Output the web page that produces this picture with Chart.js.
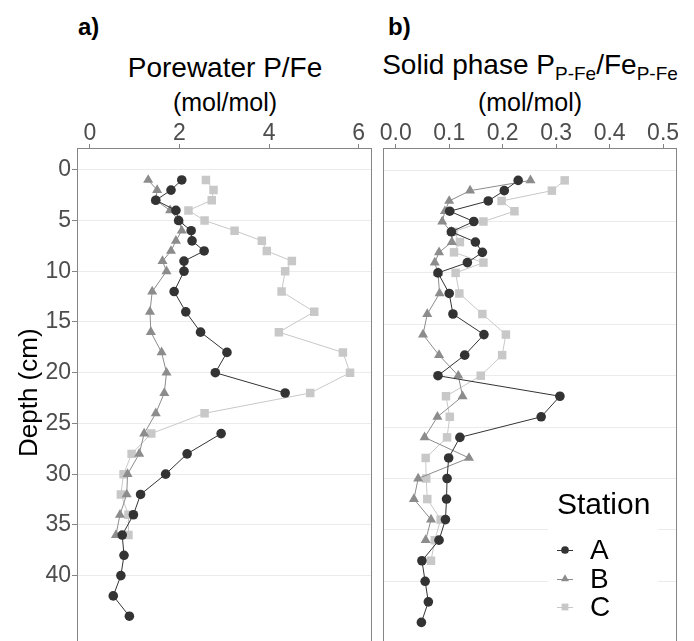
<!DOCTYPE html>
<html><head><meta charset="utf-8">
<script src="https://cdn.jsdelivr.net/npm/chart.js@4.4.1/dist/chart.umd.min.js"></script>
<style>
html,body{margin:0;padding:0;width:694px;height:641px;overflow:hidden;background:#fff;font-family:"Liberation Sans",Arial,sans-serif;}
canvas{position:absolute;}
#c1{left:0;top:110px;}
#c2{left:370px;top:110px;}
.t{position:absolute;white-space:nowrap;color:#000;line-height:1;text-align:center;}
.t sub{font-size:19px;vertical-align:-6px;line-height:1;}
</style></head><body>
<div class="t" style="left:78px;top:15px;font-size:24px;font-weight:bold;text-align:left;">a)</div>
<div class="t" style="left:388px;top:15px;font-size:24px;font-weight:bold;text-align:left;">b)</div>
<div class="t" style="left:75px;width:300px;top:54px;font-size:28px;">Porewater P/Fe</div>
<div class="t" style="left:75px;width:300px;top:90px;font-size:25px;">(mol/mol)</div>
<div class="t" style="left:380px;width:300px;top:51px;font-size:28px;">Solid phase P<sub>P-Fe</sub>/Fe<sub>P-Fe</sub></div>
<div class="t" style="left:380px;width:300px;top:90px;font-size:25px;">(mol/mol)</div>
<canvas id="c1" width="380" height="540" style="width:380px;height:540px"></canvas>
<canvas id="c2" width="324" height="540" style="width:324px;height:540px"></canvas>
<script>
// ---------- data ----------
const stations = ['A', 'B', 'C'];
const depthA = [1,2,3,4,5,6,7,8,9,10,12,14,16,18,20,22,24,26,28,30,32,34,36,38,40,42,44];
const depthB = [1,2,3,4,5,6,7,8,9,10,12,14,16,18,20,22,24,26,28,30,32,34,36];
const depthC = [1,2,3,4,5,6,7,8,9,10,12,14,16,18,20,22,24,26,28,30,32,34,36];
const depthCsolid = [1,2,3,4,5,6,7,8,9,10,12,14,16,18,20,22,24,26,28,30,32,34,36,38];

const poreA = [2.05,1.81,1.47,1.92,1.98,2.26,2.28,2.55,2.10,2.10,1.88,2.14,2.47,3.06,2.80,4.36,null,2.93,2.17,1.69,1.13,0.97,0.72,0.76,0.69,0.52,0.88];
const poreB = [1.30,1.50,1.47,1.79,1.99,2.05,1.92,1.81,1.62,1.71,1.39,1.34,1.36,1.60,1.71,1.66,1.47,1.21,1.10,0.84,0.82,0.67,0.58];
const poreC = [2.59,2.76,2.72,2.20,2.56,3.23,3.84,3.95,4.51,4.36,4.28,5.01,4.22,5.65,5.81,4.92,2.56,1.37,0.93,0.75,0.69,0.86,0.86];

const solidA = [0.229,0.203,0.173,0.101,0.146,0.104,0.149,0.162,0.134,0.079,0.100,0.107,0.165,0.129,0.079,0.307,0.272,0.120,0.099,0.096,0.095,0.093,0.081,0.049,0.055,0.061,0.048];
const solidB = [0.252,0.139,0.100,0.092,0.087,0.104,0.105,0.081,0.073,0.079,0.082,0.059,0.051,0.081,0.117,0.125,0.078,0.054,0.137,0.042,0.034,0.066,0.056];
const solidC = [0.316,0.292,0.198,0.222,0.164,0.108,0.120,0.109,0.164,0.112,0.119,0.162,0.206,0.199,0.159,0.094,0.101,0.096,0.056,0.057,0.059,0.084,0.073,0.066];

const depthTicks = [0,5,10,15,20,25,30,35,40];
const depthTickLabels = ['0','5','10','15','20','25','30','35','40'];
const poreTicks = [0,2,4,6];
const poreTickLabels = ['0','2','4','6'];
const solidTicks = [0,0.1,0.2,0.3,0.4,0.5];
const solidTickLabels = ['0.0','0.1','0.2','0.3','0.4','0.5'];

// ---------- styles ----------
const colA = '#333333', colB = '#8c8c8c', colC = '#c8c8c8';
const styleOf = {
  A: {color: colA, pointStyle: 'circle', radius: 4.8},
  B: {color: colB, pointStyle: 'triangle', radius: 5.8},
  C: {color: colC, pointStyle: 'rect', radius: 6.0}
};
Chart.defaults.font.family = "'Liberation Sans', Arial, sans-serif";
Chart.defaults.animation = false;

function pts(depths, vals) {
  return depths.map((d, i) => ({x: vals[i] === null ? null : vals[i], y: d}));
}
function ds(name, depths, vals) {
  const s = styleOf[name];
  return {
    label: name, data: pts(depths, vals), showLine: true, spanGaps: false,
    borderColor: s.color, backgroundColor: s.color, borderWidth: 1,
    pointStyle: s.pointStyle, pointRadius: s.radius, pointBorderWidth: 0,
    pointBackgroundColor: s.color, pointHoverRadius: s.radius
  };
}

const boxPlugin = {
  id: 'panelBox',
  afterDraw(chart) {
    const a = chart.chartArea, ctx = chart.ctx;
    ctx.save();
    ctx.strokeStyle = '#858585';
    ctx.lineWidth = 1;
    ctx.strokeRect(Math.round(a.left) + 0.5, Math.round(a.top) + 0.5,
      Math.round(a.right - a.left) - 1, Math.round(a.bottom - a.top) + 20);
    ctx.restore();
  }
};

const legendPlugin = {
  id: 'stationLegend',
  afterDraw(chart) {
    const a = chart.chartArea, ctx = chart.ctx;
    const x0 = a.right - 129, y0 = a.top + 334;
    ctx.save();
    ctx.fillStyle = '#ffffff';
    ctx.fillRect(x0, y0, 110, 150);
    ctx.fillStyle = '#000';
    ctx.textBaseline = 'middle';
    ctx.textAlign = 'left';
    ctx.font = "30px 'Liberation Sans', Arial, sans-serif";
    ctx.fillText('Station', x0 + 9, y0 + 24);
    ctx.font = "28px 'Liberation Sans', Arial, sans-serif";
    const rows = [68, 97, 125];
    chart.data.datasets.forEach((d, i) => {
      const cy = y0 + rows[i];
      const cx = x0 + 17;
      ctx.strokeStyle = d.borderColor;
      ctx.lineWidth = 1;
      ctx.beginPath(); ctx.moveTo(cx - 8, cy + 0.5); ctx.lineTo(cx + 8, cy + 0.5); ctx.stroke();
      ctx.fillStyle = d.backgroundColor;
      const r = d.pointRadius * 0.8;
      if (Chart.helpers && Chart.helpers.drawPoint) {
        Chart.helpers.drawPoint(ctx, {pointStyle: d.pointStyle, radius: r, rotation: 0, borderWidth: 0}, cx, cy);
      }
      ctx.fillStyle = '#000';
      ctx.fillText(d.label, x0 + 42, cy + 1);
    });
    ctx.restore();
  }
};

function makeChart(id, datasets, xMin, xMax, xTicks, xLabels, withY, padRight, yWidth) {
  return new Chart(document.getElementById(id), {
    type: 'scatter',
    data: {datasets},
    options: {
      responsive: false, animation: false,
      layout: {padding: {left: 0, top: 0, right: padRight, bottom: 5}},
      plugins: {legend: {display: false}, tooltip: {enabled: false}},
      scales: {
        x: {
          type: 'linear', position: 'top', min: xMin, max: xMax,
          afterBuildTicks: s => { s.ticks = xTicks.map(v => ({value: v})); },
          afterFit: s => { s.height = 38; },
          ticks: {autoSkip: false, maxRotation: 0, color: '#4d4d4d', padding: -1,
                  font: {size: 23, lineHeight: 1},
                  callback: (v, i) => xLabels[i]},
          grid: {drawOnChartArea: false, tickColor: '#858585', tickLength: 4, lineWidth: 1},
          border: {display: false}
        },
        y: {
          type: 'linear', position: 'left', reverse: true, min: -2.15, max: 46.1,
          afterBuildTicks: s => { s.ticks = depthTicks.map(v => ({value: v})); },
          afterFit: s => { s.width = yWidth; },
          ticks: {display: withY, autoSkip: false, color: '#4d4d4d', padding: 1,
                  font: {size: 23, lineHeight: 1},
                  callback: (v, i) => depthTickLabels[i]},
          grid: {color: '#ebebeb', lineWidth: 1, drawTicks: withY, tickColor: '#858585', tickLength: 5},
          border: {display: false},
          title: {display: withY, text: 'Depth (cm)', color: '#000',
                  font: {size: 26, lineHeight: 1.2}, padding: {top: 14, bottom: 0}}
        }
      }
    },
    plugins: withY ? [boxPlugin] : [boxPlugin, legendPlugin]
  });
}

makeChart('c1', [ds('A', depthA, poreA), ds('B', depthB, poreB), ds('C', depthC, poreC)],
  -0.29, 6.30, poreTicks, poreTickLabels, true, 8, 77);
makeChart('c2', [ds('A', depthA, solidA), ds('B', depthB, solidB), ds('C', depthCsolid, solidC)],
  -0.0238, 0.526, solidTicks, solidTickLabels, false, 17, 13);
</script>
</body></html>
